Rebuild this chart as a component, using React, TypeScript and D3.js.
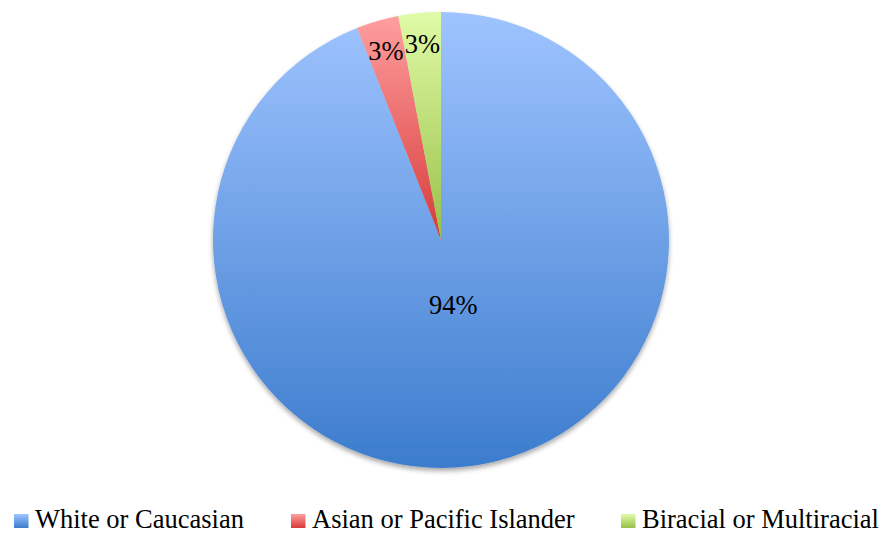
import React from "react";
import * as d3 from "d3";

const categories = ["White or Caucasian", "Asian or Pacific Islander", "Biracial or Multiracial"];
const values = [94, 3, 3];
const labels = ["94%", "3%", "3%"];
const topColors = ["#9fc4ff", "#ff9e9e", "#e0fba6"];
const bottomColors = ["#3c7ccd", "#d63a3a", "#98c048"];

const W = 887;
const H = 533;
const cx = 441;
const cy = 240;
const R = 228;
const FONT = "'Liberation Serif', 'Times New Roman', serif";

export default function App() {
  const pie = d3.pie<number>().sort(null).value((d) => d)(values);
  const arc = d3.arc<d3.PieArcDatum<number>>().innerRadius(0).outerRadius(R);
  const legendX = [14, 291, 621];
  return (
    <svg width={W} height={H} style={{ position: "absolute", left: 0, top: 0, background: "#fff" }}>
      <defs>
        {categories.map((c, i) => (
          <linearGradient key={c} id={`g${i}`} x1="0" y1="0" x2="0" y2="1">
            <stop offset="0" stopColor={topColors[i]} />
            <stop offset="1" stopColor={bottomColors[i]} />
          </linearGradient>
        ))}
        <filter id="sh" x="-10%" y="-10%" width="120%" height="125%">
          <feGaussianBlur in="SourceAlpha" stdDeviation="2.5" />
          <feOffset dx="0" dy="3" result="b" />
          <feComponentTransfer>
            <feFuncA type="linear" slope="0.35" />
          </feComponentTransfer>
          <feMerge>
            <feMergeNode />
            <feMergeNode in="SourceGraphic" />
          </feMerge>
        </filter>
      </defs>
      <g transform={`translate(${cx},${cy})`} filter="url(#sh)">
        {pie.map((p, i) => (
          <path key={i} d={arc(p) || ""} fill={`url(#g${i})`} />
        ))}
      </g>
      <g transform={`translate(${cx},${cy})`}>
        {pie.map((p, i) => {
          const a = (p.startAngle + p.endAngle) / 2;
          const frac = (p.endAngle - p.startAngle) / (2 * Math.PI);
          const r = frac > 0.5 ? 0.29 * R : 0.865 * R;
          const x = Math.sin(a) * r;
          const y = -Math.cos(a) * r;
          return (
            <text
              key={i}
              x={x}
              y={y + 9}
              textAnchor="middle"
              style={{ fontFamily: FONT, fontSize: "26.5px" }}
              fill="#000"
            >
              {labels[i]}
            </text>
          );
        })}
      </g>
      {categories.map((c, i) => (
        <g key={c} transform={`translate(${legendX[i]},0)`}>
          <rect x={0} y={514} width={14.5} height={14} fill={`url(#g${i})`} />
          <text x={21} y={528} style={{ fontFamily: FONT, fontSize: "26.5px" }} fill="#000">
            {c}
          </text>
        </g>
      ))}
    </svg>
  );
}
